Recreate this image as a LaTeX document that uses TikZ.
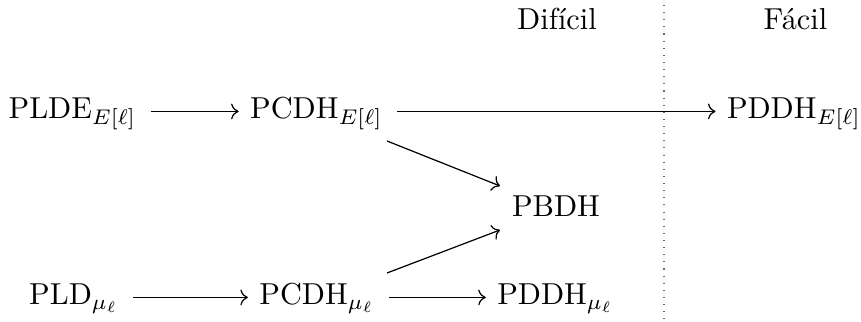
\documentclass[tikz,border=0pt]{standalone}
\usetikzlibrary{arrows.meta}
\tikzset{
  obj/.style={inner sep=0pt, anchor=base},
  lab/.style={inner sep=0pt, anchor=base},
  arr/.style={-{Computer Modern Rightarrow}, line width=0.4pt},
  harr/.style={arr, shorten <=4.5pt, shorten >=3.6pt},
  sep/.style={dotted, line width=0.35pt, black!60}
}
\begin{document}
\begin{tikzpicture}[x=0.33pt, y=-0.33pt]
\useasboundingbox (0,0) rectangle (861,322);
% column labels
\node[lab] (dif) at (557,30) {Difícil};
\node[lab] (fac) at (795.5,30) {Fácil};
% separator
\coordinate (sepT) at (664,5);
\coordinate (sepB) at (664,322);
\draw[sep] (sepT) -- (sepB);
% objects
\node[obj] (plde)  at (72.5,119) {$\mathrm{PLDE}_{E[\ell]}$};
\node[obj] (pcdhE) at (316.5,119) {$\mathrm{PCDH}_{E[\ell]}$};
\node[obj] (pddhE) at (794,119) {$\mathrm{PDDH}_{E[\ell]}$};
\node[obj] (pbdh)  at (556,217) {$\mathrm{PBDH}$};
\node[obj] (pld)   at (74,305) {$\mathrm{PLD}_{\mu_\ell}$};
\node[obj] (pcdhM) at (317,305) {$\mathrm{PCDH}_{\mu_\ell}$};
\node[obj] (pddhM) at (555.5,305) {$\mathrm{PDDH}_{\mu_\ell}$};
% arrows
\draw[harr] ([yshift=2.5pt]plde.base east) -- ([yshift=2.5pt]pcdhE.base west);
\draw[harr] ([yshift=2.5pt]pcdhE.base east) -- ([yshift=2.5pt]pddhE.base west);
\draw[harr] ([yshift=2.5pt]pld.base east) -- ([yshift=2.5pt]pcdhM.base west);
\draw[harr] ([yshift=2.5pt]pcdhM.base east) -- ([yshift=2.5pt]pddhM.base west);
\draw[arr] ([shift={(70.5,22)}]pcdhE.base) -- ([shift={(-56,-31)}]pbdh.base);
\draw[arr] ([shift={(70,-32)}]pcdhM.base) -- ([shift={(-56,13)}]pbdh.base);
\end{tikzpicture}
\end{document}
